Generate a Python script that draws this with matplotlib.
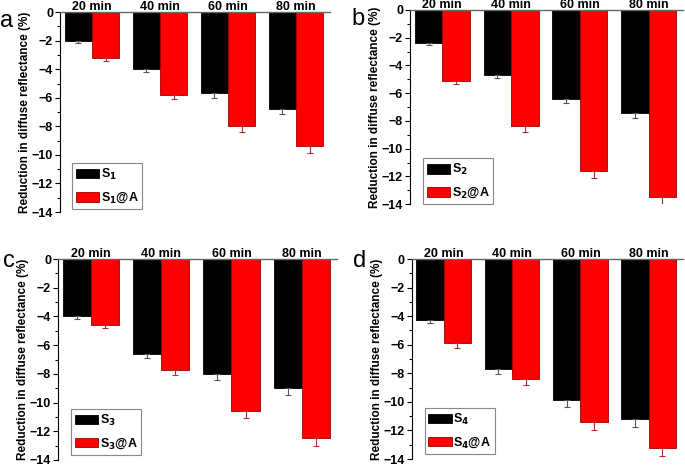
import numpy as np
import matplotlib.pyplot as plt

plt.rcParams['font.family'] = ['Liberation Sans', 'DejaVu Sans']
plt.rcParams['font.weight'] = 'bold'

groups = ['20 min', '40 min', '60 min', '80 min']

s1 = [-2.0, -4.0, -5.7, -6.8]
s1_err = [0.15, 0.2, 0.3, 0.35]
s1a = [-3.2, -5.8, -8.0, -9.4]
s1a_err = [0.2, 0.3, 0.4, 0.45]

s2 = [-2.4, -4.7, -6.4, -7.4]
s2_err = [0.15, 0.2, 0.3, 0.4]
s2a = [-5.1, -8.4, -11.6, -13.5]
s2a_err = [0.25, 0.4, 0.55, 0.6]

s3 = [-4.0, -6.6, -8.0, -9.0]
s3_err = [0.2, 0.3, 0.4, 0.45]
s3a = [-4.6, -7.7, -10.6, -12.5]
s3a_err = [0.2, 0.4, 0.5, 0.55]

s4 = [-4.3, -7.7, -9.9, -11.2]
s4_err = [0.2, 0.35, 0.45, 0.55]
s4a = [-5.9, -8.4, -11.4, -13.2]
s4a_err = [0.3, 0.4, 0.55, 0.6]

# letter, subscript, data, axes rect, letter position, legend anchor
panels = [
    ('a', '1', s1, s1_err, s1a, s1a_err, [0.0876, 0.544, 0.394, 0.430], (0.0, 0.942), (0.044, 0.015)),
    ('b', '2', s2, s2_err, s2a, s2a_err, [0.5985, 0.561, 0.3985, 0.4175], (0.513, 0.946), (0.048, 0.0)),
    ('c', '3', s3, s3_err, s3a, s3a_err, [0.0847, 0.0108, 0.407, 0.432], (0.005, 0.426), (0.047, 0.025)),
    ('d', '4', s4, s4_err, s4a, s4a_err, [0.601, 0.0129, 0.396, 0.430], (0.516, 0.426), (0.048, 0.025)),
]

fig = plt.figure(figsize=(6.85, 4.65), dpi=100)
x = np.arange(1, 5)
w = 0.4

for letter, sub, black, berr, red, rerr, pos, lpos, legpos in panels:
    ax = fig.add_axes(pos)
    zeros = [0] * 4
    ax.bar(x - w / 2, black, w, color='black', edgecolor='black', linewidth=0.6,
           yerr=[berr, zeros], error_kw=dict(ecolor='#555555', elinewidth=0.8, capsize=2.5, capthick=0.8),
           label='S$_{%s}$' % sub)
    ax.bar(x + w / 2, red, w, color='#ff0000', edgecolor='#a00000', linewidth=0.6,
           yerr=[rerr, zeros], error_kw=dict(ecolor='#b03030', elinewidth=0.8, capsize=2.5, capthick=0.8),
           label='S$_{%s}$@A' % sub)
    ax.set_xlim(0.53, 4.5)
    ax.set_ylim(-14, 0)
    ax.set_yticks(np.arange(-14, 1, 2))
    ax.set_yticks(np.arange(-13, 0, 2), minor=True)
    ax.tick_params(axis='y', which='major', direction='out', length=3.5, width=0.8, labelsize=9, pad=1.5)
    ax.tick_params(axis='y', which='minor', direction='out', length=2, width=0.8)
    ax.xaxis.tick_top()
    ax.set_xticks(x)
    ax.set_xticklabels(groups, fontsize=9, fontweight='bold')
    ax.tick_params(axis='x', length=0, pad=-1)
    for s in ['right', 'bottom']:
        ax.spines[s].set_visible(False)
    ax.spines['top'].set_color('#666666')
    ax.spines['top'].set_linewidth(1.0)
    ax.spines['left'].set_linewidth(0.8)
    ax.set_ylabel('Reduction in diffuse reflectance (%)', fontsize=8.5, fontweight='bold', labelpad=0.5)
    leg = ax.legend(loc='lower left', bbox_to_anchor=legpos, fontsize=9, handlelength=1.85,
                    handleheight=0.8, borderpad=0.3, labelspacing=0.7, handletextpad=0.15,
                    fancybox=False, edgecolor='#888888', framealpha=1, borderaxespad=0)
    leg.get_frame().set_linewidth(0.8)
    fig.text(lpos[0], lpos[1], letter, fontsize=17, fontweight='normal', va='baseline', ha='left')

fig.savefig('out.png', dpi=100)
